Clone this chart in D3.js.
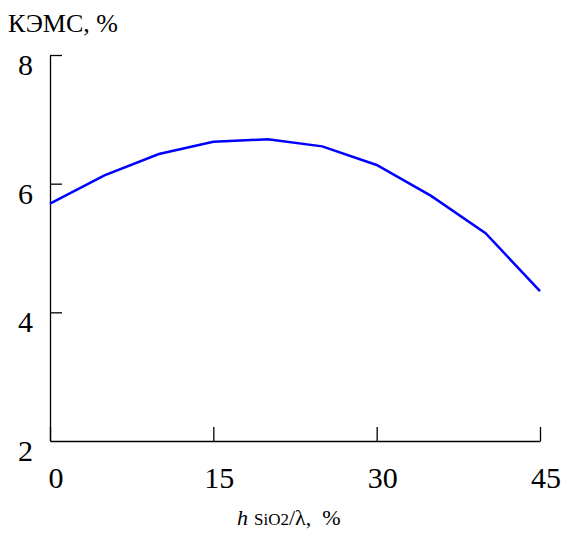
<!DOCTYPE html>
<html>
<head>
<meta charset="utf-8">
<script src="https://cdn.jsdelivr.net/npm/d3@7"></script>
<style>
  body { margin: 0; background: #fff; }
  svg { display: block; }
  text { font-family: "Liberation Serif", "Times New Roman", serif; fill: #000; }
</style>
</head>
<body>
<div class="chart"></div>
<script>
// thickness of SiO2 layer, h/lambda %
const xValues = [0, 5, 10, 15, 20, 25, 30, 35, 40, 45];
// electromechanical coupling coefficient, %
const kValues = [5.69, 6.13, 6.46, 6.65, 6.69, 6.58, 6.29, 5.81, 5.23, 4.33];
const xTicks = [0, 15, 30, 45];
const yTicks = [2, 4, 6, 8];

const w = 566;
const h = 538;
const margin = {top: 55, right: 26, bottom: 97, left: 50};

const svg = d3.select('.chart').append('svg')
    .attr('width', w)
    .attr('height', h);

const x = d3.scaleLinear()
    .domain([0, 45])
    .range([margin.left, w - margin.right]);

const y = d3.scaleLinear()
    .domain([2, 8])
    .range([h - margin.bottom, margin.top]);

// axes - ticks point inward, labels drawn separately
svg.append('g')
    .attr('transform', 'translate(0,' + y(2) + ')')
    .call(d3.axisTop(x).tickValues(xTicks).tickSize(14).tickSizeOuter(0).tickFormat(''))
    .call(g => g.selectAll('path, line').attr('stroke', '#000').attr('stroke-width', 1.3));

svg.append('g')
    .attr('transform', 'translate(' + x(0) + ',0)')
    .call(d3.axisRight(y).tickValues(yTicks.filter(d => d > 2)).tickSize(12).tickSizeOuter(0).tickFormat(''))
    .call(g => g.selectAll('path, line').attr('stroke', '#000').attr('stroke-width', 1.3));

svg.selectAll('.xlab')
    .data(xTicks)
    .enter().append('text')
    .attr('class', 'xlab')
    .attr('x', d => x(d) + 6)
    .attr('y', y(2) + 47)
    .attr('text-anchor', 'middle')
    .style('font-size', '30px')
    .text(d => d);

svg.selectAll('.ylab')
    .data(yTicks)
    .enter().append('text')
    .attr('class', 'ylab')
    .attr('x', 33)
    .attr('y', d => y(d) + 20)
    .attr('text-anchor', 'end')
    .style('font-size', '30px')
    .text(d => d);

// titles
svg.append('text')
    .attr('x', 8)
    .attr('y', 32)
    .style('font-size', '26px')
    .text('КЭМС, %');

const xt = svg.append('text')
    .attr('x', 237)
    .attr('y', 525)
    .style('font-size', '22px');
xt.append('tspan').style('font-style', 'italic').text('h');
xt.append('tspan').attr('dx', 6).style('font-size', '17px').text('SiO2');
xt.append('tspan').text('/λ,');
xt.append('tspan').attr('dx', 11).text('%');

const line = d3.line()
    .x((d, i) => x(xValues[i]))
    .y(d => y(d));

svg.append('path')
    .datum(kValues)
    .attr('d', line)
    .attr('fill', 'none')
    .attr('stroke', '#0000ff')
    .attr('stroke-width', 2.5);
</script>
</body>
</html>
